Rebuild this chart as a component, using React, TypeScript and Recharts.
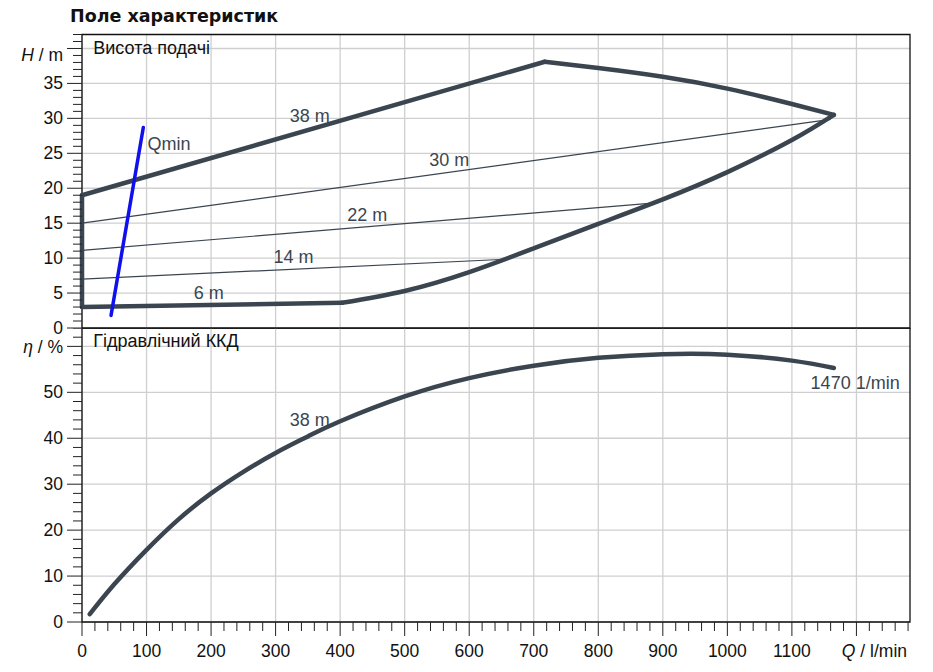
import {
  CartesianGrid,
  Label,
  Line,
  LineChart,
  ReferenceArea,
  ReferenceDot,
  XAxis,
  YAxis,
} from 'recharts'

const FONT = '"Liberation Sans", Arial, sans-serif'
const INK = '#3b4550'
const GRID = '#cfcfcf'

// Q axis (l/min)
const Q_MAX = 1283
const qTicks = Array.from({ length: 65 }, (_, i) => i * 20)
const qGrid = [0, 100, 200, 300, 400, 500, 600, 700, 800, 900, 1000, 1100, 1200]
const qLabels = ['0', '100', '200', '300', '400', '500', '600', '700', '800', '900', '1000', '1100']

// H axis (m)
const H_MAX = 42
const hTicks = Array.from({ length: 43 }, (_, i) => i)
const hGrid = [0, 5, 10, 15, 20, 25, 30, 35, 40]
const hLabels = ['0', '5', '10', '15', '20', '25', '30', '35']

// eta axis (%)
const ETA_MAX = 64
const etaTicks = Array.from({ length: 33 }, (_, i) => i * 2)
const etaGrid = [0, 10, 20, 30, 40, 50, 60]
const etaLabels = ['0', '10', '20', '30', '40', '50']

// head field outline
const leftEdgeQ = [0, 0]
const leftEdgeH = [3.0, 19.0]
const curve38Q = [0, 717]
const curve38H = [19.0, 38.1]
const endCurveQ = [717, 800, 900, 1000, 1100, 1165]
const endCurveH = [38.1, 37.2, 35.95, 34.25, 32.05, 30.5]
const lowerCurveQ = [403, 500, 600, 700, 800, 900, 1000, 1100, 1165]
const lowerCurveH = [3.6, 5.3, 8.0, 11.4, 14.9, 18.4, 22.3, 26.9, 30.5]
const curve6Q = [0, 403]
const curve6H = [3.0, 3.6]

// thin intermediate curves
const curve30Q = [0, 1160]
const curve30H = [15.0, 29.85]
const curve22Q = [0, 893]
const curve22H = [11.1, 17.95]
const curve14Q = [0, 648]
const curve14H = [7.0, 9.8]

// Qmin
const qminQ = [45, 95]
const qminH = [1.8, 28.7]

// hydraulic efficiency, 38 m
const effQ = [12, 50, 100, 150, 200, 250, 300, 350, 400, 500, 600, 700, 800, 900, 1000, 1100, 1165]
const effEta = [1.7, 8.2, 15.7, 22.4, 28.0, 32.7, 36.8, 40.4, 43.7, 49.1, 53.1, 55.8, 57.5, 58.3, 58.2, 56.9, 55.3]

const pts = (qs: number[], vs: number[]) => qs.map((q, i) => ({ q, v: vs[i] }))

const tickText = {
  fontFamily: FONT,
  fontSize: 17.5,
  fill: '#111',
  dominantBaseline: 'central' as const,
}

const QTick = (props: any) => {
  const { x, y, payload } = props
  const v = payload.value
  const major = v % 100 === 0
  const label = qLabels[qGrid.indexOf(v)]
  return (
    <g>
      <line x1={x} x2={x} y1={y} y2={y + (major ? 14 : 9)} stroke="#222" />
      {label !== undefined && (
        <text x={x} y={y + 29} textAnchor="middle" {...tickText}>
          {label}
        </text>
      )}
      {v === 1200 && (
        <text x={x + 18} y={y + 29} textAnchor="middle" {...tickText}>
          <tspan fontStyle="italic">Q</tspan> / l/min
        </text>
      )}
    </g>
  )
}

const makeYTick =
  (grid: number[], labels: string[], unitAt: number, unitSym: string, unit: string, unitDy: number) =>
  (props: any) => {
    const { x, y, payload } = props
    const v = payload.value
    const idx = grid.indexOf(v)
    const major = idx >= 0
    return (
      <g>
        <line x1={x - (major ? 15 : 9)} x2={x} y1={y} y2={y} stroke="#222" />
        {major && labels[idx] !== undefined && (
          <text x={x - 19} y={y} textAnchor="end" {...tickText}>
            {labels[idx]}
          </text>
        )}
        {v === unitAt && (
          <text x={x - 19} y={y + unitDy} textAnchor="end" {...tickText}>
            <tspan fontStyle="italic">{unitSym}</tspan> / {unit}
          </text>
        )}
      </g>
    )
  }

const HTick = makeYTick(hGrid, hLabels, 40, 'H', 'm', 7)
const EtaTick = makeYTick(etaGrid, etaLabels, 60, 'η', '%', 1)

const note = (x: number, y: number, text: string, pos: 'center' | 'right' = 'center', color = INK) => (
  <ReferenceDot key={text + x} x={x} y={y} r={0} fill="none" stroke="none">
    <Label value={text} position={pos} offset={0} fill={color} fontSize={18} fontFamily={FONT} />
  </ReferenceDot>
)

const thick = { stroke: INK, strokeWidth: 4.5, strokeLinecap: 'round' as const, dot: false, activeDot: false, isAnimationActive: false }
const thin = { stroke: INK, strokeWidth: 1.2, dot: false, activeDot: false, isAnimationActive: false }

export default function App() {
  return (
    <div style={{ position: 'absolute', left: 0, top: 0, width: 933, height: 672, background: '#fff' }}>
      <div
        style={{
          position: 'absolute',
          left: 70,
          top: 5,
          fontFamily: '"DejaVu Sans", Verdana, sans-serif',
          fontWeight: 'bold',
          fontSize: 17.5,
          lineHeight: '22px',
          color: '#111',
        }}
      >
        Поле характеристик
      </div>

      <div style={{ position: 'absolute', left: 0, top: 0 }}>
        <LineChart width={933} height={340} margin={{ top: 34.5, right: 23, bottom: 12, left: 0 }}>
          <CartesianGrid verticalValues={qGrid} horizontalValues={hGrid} stroke={GRID} strokeWidth={1.3} />
          <XAxis type="number" dataKey="q" domain={[0, Q_MAX]} hide />
          <YAxis
            type="number"
            dataKey="v"
            domain={[0, H_MAX]}
            ticks={hTicks}
            interval={0}
            width={82}
            tickSize={0}
            tickMargin={0}
            tickLine={false}
            axisLine={false}
            tick={HTick}
          />
          <ReferenceArea x1={0} x2={Q_MAX} y1={0} y2={H_MAX} fill="none" stroke="#111" strokeWidth={1.3} />
          <Line data={pts(curve30Q, curve30H)} dataKey="v" type="linear" {...thin} />
          <Line data={pts(curve22Q, curve22H)} dataKey="v" type="linear" {...thin} />
          <Line data={pts(curve14Q, curve14H)} dataKey="v" type="linear" {...thin} />
          <Line data={pts(leftEdgeQ, leftEdgeH)} dataKey="v" type="linear" {...thick} />
          <Line data={pts(curve38Q, curve38H)} dataKey="v" type="linear" {...thick} />
          <Line data={pts(endCurveQ, endCurveH)} dataKey="v" type="natural" {...thick} />
          <Line data={pts(lowerCurveQ, lowerCurveH)} dataKey="v" type="natural" {...thick} />
          <Line data={pts(curve6Q, curve6H)} dataKey="v" type="linear" {...thick} />
          <Line
            data={pts(qminQ, qminH)}
            dataKey="v"
            type="linear"
            stroke="#1010ee"
            strokeWidth={3.5}
            strokeLinecap="round"
            dot={false}
            activeDot={false}
            isAnimationActive={false}
          />
          {note(17.5, 40.14, 'Висота подачі', 'right', '#111')}
          {note(101.5, 26.34, 'Qmin', 'right')}
          {note(353, 30.39, '38 m')}
          {note(569, 24.06, '30 m')}
          {note(442, 16.2, '22 m')}
          {note(327.6, 10.24, '14 m')}
          {note(196.4, 5.0, '6 m')}
        </LineChart>
      </div>

      <div style={{ position: 'absolute', left: 0, top: 328 }}>
        <LineChart width={933} height={344} margin={{ top: 0, right: 23, bottom: 0, left: 0 }}>
          <CartesianGrid verticalValues={qGrid} horizontalValues={etaGrid} stroke={GRID} strokeWidth={1.3} />
          <XAxis
            type="number"
            dataKey="q"
            domain={[0, Q_MAX]}
            ticks={qTicks}
            interval={0}
            height={50}
            tickSize={0}
            tickMargin={0}
            tickLine={false}
            axisLine={false}
            tick={QTick}
          />
          <YAxis
            type="number"
            dataKey="v"
            domain={[0, ETA_MAX]}
            ticks={etaTicks}
            interval={0}
            width={82}
            tickSize={0}
            tickMargin={0}
            tickLine={false}
            axisLine={false}
            tick={EtaTick}
          />
          <ReferenceArea x1={0} x2={Q_MAX} y1={0} y2={ETA_MAX} fill="none" stroke="#111" strokeWidth={1.3} />
          <Line data={pts(effQ, effEta)} dataKey="v" type="natural" {...thick} />
          {note(17.5, 61.35, 'Гідравлічний ККД', 'right', '#111')}
          {note(353, 44.04, '38 m')}
          {note(1198, 52.18, '1470 1/min')}
        </LineChart>
      </div>
    </div>
  )
}
